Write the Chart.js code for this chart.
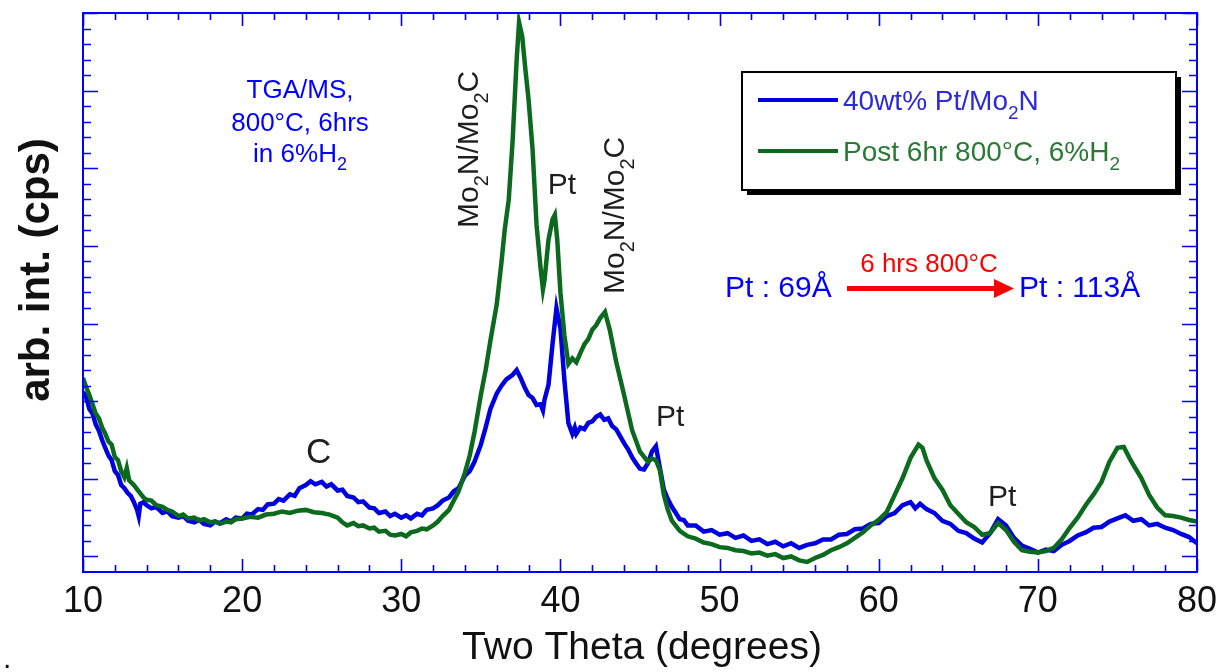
<!DOCTYPE html>
<html>
<head>
<meta charset="utf-8">
<script src="https://cdn.jsdelivr.net/npm/chart.js@4/dist/chart.umd.min.js"></script>
<style>
  html, body { margin: 0; padding: 0; background: #ffffff; }
  canvas { display: block; }
</style>
</head>
<body>
<canvas id="xrd" width="1221" height="672"></canvas>
<script>
// XRD scans: [two theta (deg), arbitrary intensity]
const freshScan = [
  [10,2.12],[10.2,2.05],[10.4,1.90],[10.6,1.84],[10.8,1.70],[11,1.62],[11.2,1.50],[11.4,1.40],
  [11.6,1.30],[11.8,1.24],[12,1.10],[12.2,1.05],[12.4,0.92],[12.6,0.88],[12.8,0.82],[13,0.78],
  [13.2,0.70],[13.4,0.60],[13.5,0.52],[13.6,0.68],[13.8,0.70],[14,0.66],[14.3,0.62],[14.6,0.64],
  [15,0.56],[15.3,0.58],[15.6,0.52],[16,0.50],[16.3,0.52],[16.6,0.46],[17,0.44],[17.3,0.47],
  [17.6,0.42],[18,0.40],[18.3,0.45],[18.6,0.43],[19,0.48],[19.3,0.45],[19.6,0.50],[20,0.49],
  [20.3,0.55],[20.6,0.54],[21,0.61],[21.3,0.60],[21.6,0.67],[22,0.68],[22.3,0.74],[22.6,0.72],
  [23,0.80],[23.3,0.78],[23.6,0.88],[24,0.92],[24.3,0.97],[24.6,0.93],[25,0.96],[25.3,0.90],
  [25.6,0.93],[26,0.85],[26.3,0.86],[26.6,0.78],[27,0.76],[27.3,0.70],[27.6,0.71],[28,0.63],
  [28.3,0.62],[28.6,0.56],[29,0.58],[29.3,0.52],[29.6,0.55],[30,0.50],[30.3,0.53],[30.6,0.49],
  [31,0.55],[31.3,0.53],[31.6,0.60],[32,0.62],[32.3,0.66],[32.6,0.72],[33,0.76],[33.3,0.84],
  [33.6,0.88],[34,1.04],[34.3,1.10],[34.6,1.22],[35,1.44],[35.3,1.66],[35.6,1.90],[36,2.10],
  [36.3,2.20],[36.6,2.28],[37,2.34],[37.25,2.40],[37.5,2.30],[37.75,2.18],[38,2.08],[38.25,2.04],
  [38.5,1.95],[38.75,1.96],[38.9,1.88],[39,2.02],[39.25,2.21],[39.5,2.73],[39.75,3.20],[40,2.94],
  [40.25,2.27],[40.5,1.72],[40.75,1.58],[40.9,1.66],[41,1.58],[41.25,1.66],[41.5,1.64],[41.75,1.72],
  [42,1.74],[42.25,1.80],[42.5,1.83],[42.75,1.76],[43,1.78],[43.25,1.68],[43.5,1.64],[43.75,1.55],
  [44,1.46],[44.25,1.38],[44.5,1.28],[44.75,1.20],[45,1.13],[45.25,1.12],[45.5,1.20],[45.75,1.35],
  [46,1.42],[46.25,1.14],[46.5,0.86],[46.75,0.74],[47,0.64],[47.25,0.56],[47.5,0.48],[47.75,0.47],
  [48,0.40],[48.5,0.40],[49,0.32],[49.5,0.34],[50,0.28],[50.5,0.30],[51,0.24],[51.5,0.27],
  [52,0.20],[52.5,0.22],[53,0.16],[53.5,0.19],[54,0.13],[54.5,0.17],[55,0.11],[55.5,0.15],
  [56,0.17],[56.5,0.22],[57,0.22],[57.5,0.28],[58,0.29],[58.5,0.35],[59,0.36],[59.5,0.42],
  [60,0.43],[60.5,0.52],[61,0.56],[61.5,0.66],[62,0.70],[62.3,0.62],[62.6,0.68],[63,0.61],
  [63.5,0.56],[64,0.46],[64.5,0.42],[65,0.33],[65.5,0.30],[66,0.23],[66.5,0.18],[67,0.30],
  [67.5,0.48],[67.75,0.44],[68,0.40],[68.5,0.24],[69,0.14],[69.5,0.10],[70,0.05],[70.5,0.09],
  [71,0.07],[71.5,0.15],[72,0.20],[72.5,0.27],[73,0.31],[73.5,0.37],[74,0.38],[74.5,0.45],
  [75,0.49],[75.5,0.53],[76,0.46],[76.5,0.48],[77,0.40],[77.5,0.42],[78,0.37],[78.5,0.34],
  [79,0.29],[79.5,0.25],[80,0.17]
];

const annealedScan = [
  [10,2.30],[10.2,2.18],[10.4,2.08],[10.6,1.96],[10.8,1.84],[11,1.78],[11.2,1.66],[11.4,1.58],
  [11.6,1.48],[11.8,1.44],[12,1.28],[12.2,1.24],[12.4,1.10],[12.6,1.02],[12.75,1.14],[12.9,0.98],
  [13.2,0.92],[13.5,0.84],[13.8,0.76],[14,0.73],[14.3,0.72],[14.6,0.66],[15,0.64],[15.3,0.60],
  [15.6,0.58],[16,0.52],[16.3,0.54],[16.6,0.49],[17,0.50],[17.3,0.46],[17.6,0.48],[18,0.44],
  [18.3,0.45],[18.6,0.42],[19,0.45],[19.3,0.44],[19.6,0.48],[20,0.49],[20.5,0.51],[21,0.50],
  [21.5,0.54],[22,0.55],[22.5,0.58],[23,0.56],[23.5,0.59],[24,0.60],[24.5,0.57],[25,0.56],
  [25.5,0.54],[26,0.50],[26.3,0.44],[26.6,0.40],[27,0.43],[27.3,0.39],[27.6,0.40],[28,0.36],
  [28.3,0.37],[28.6,0.32],[29,0.33],[29.3,0.28],[29.6,0.27],[30,0.29],[30.3,0.26],[30.6,0.31],
  [31,0.33],[31.3,0.36],[31.6,0.35],[32,0.40],[32.3,0.45],[32.6,0.52],[33,0.60],[33.3,0.72],
  [33.6,0.84],[34,1.08],[34.3,1.30],[34.6,1.60],[35,2.08],[35.3,2.40],[35.6,2.78],[36,3.25],
  [36.3,3.80],[36.5,4.21],[36.75,4.59],[37,5.37],[37.25,6.40],[37.4,6.88],[37.6,6.70],[37.8,6.27],
  [38,5.88],[38.25,5.24],[38.5,4.27],[38.75,3.72],[38.9,3.44],[39,3.56],[39.25,4.08],[39.5,4.34],
  [39.65,4.40],[39.8,4.08],[40,3.40],[40.25,2.85],[40.5,2.48],[40.75,2.55],[41,2.50],[41.25,2.62],
  [41.5,2.73],[41.75,2.80],[42,2.92],[42.25,2.98],[42.5,3.07],[42.8,3.15],[43.1,2.92],[43.5,2.51],
  [44,2.08],[44.5,1.63],[45,1.35],[45.5,1.22],[45.75,1.26],[46,1.24],[46.25,1.11],[46.5,0.79],
  [46.75,0.60],[47,0.46],[47.5,0.33],[48,0.26],[48.5,0.23],[49,0.18],[49.5,0.16],[50,0.12],
  [50.5,0.11],[51,0.08],[51.5,0.07],[52,0.04],[52.5,0.05],[53,0.01],[53.5,0.03],[54,-0.02],
  [54.5,0.00],[55,-0.05],[55.5,-0.07],[56,-0.02],[56.5,0.02],[57,0.08],[57.5,0.12],[58,0.17],
  [58.5,0.24],[59,0.31],[59.5,0.40],[60,0.47],[60.5,0.57],[61,0.79],[61.5,1.01],[62,1.27],
  [62.5,1.44],[62.75,1.40],[63,1.24],[63.5,1.01],[64,0.86],[64.5,0.66],[65,0.55],[65.5,0.44],
  [66,0.38],[66.5,0.28],[67,0.30],[67.5,0.43],[68,0.34],[68.5,0.19],[69,0.08],[69.5,0.06],
  [70,0.05],[70.5,0.07],[71,0.11],[71.5,0.22],[72,0.37],[72.5,0.50],[73,0.66],[73.5,0.80],
  [74,0.96],[74.5,1.22],[75,1.40],[75.4,1.41],[75.75,1.27],[76,1.18],[76.5,1.01],[77,0.79],
  [77.5,0.63],[78,0.53],[78.5,0.52],[79,0.50],[79.5,0.47],[80,0.45]
];

const xTickLabels = [10, 20, 30, 40, 50, 60, 70, 80];
const xMinorStep = 2;
const yMajorTicks = [0, 1, 2, 3, 4, 5, 6, 7];
const yMinorStep = 0.2;

const seriesNames = ['40wt% Pt/Mo|2|N', 'Post 6hr 800°C, 6%H|2|'];
const seriesColors = ['#0000e0', '#0b6a1e'];
const legendTextColors = ['#2a2ad8', '#2a7a36'];

const FONT = '"Liberation Sans", Arial, Helvetica, sans-serif';

// Draws text in which "|...|" segments become subscripts.
function richText(ctx, spec, x, y, size, color, align, bold) {
  const parts = spec.split('|');
  const w = (s, sub) => {
    ctx.font = (bold ? 'bold ' : '') + (sub ? Math.round(size * 0.68) : size) + 'px ' + FONT;
    return ctx.measureText(s).width;
  };
  let total = 0;
  parts.forEach((p, i) => { total += w(p, i % 2 === 1); });
  let cx = x;
  if (align === 'center') cx = x - total / 2;
  else if (align === 'right') cx = x - total;
  ctx.fillStyle = color;
  ctx.textAlign = 'left';
  ctx.textBaseline = 'alphabetic';
  parts.forEach((p, i) => {
    const sub = i % 2 === 1;
    const pw = w(p, sub);
    ctx.fillText(p, cx, sub ? y + size * 0.32 : y);
    cx += pw;
  });
}

const decorations = {
  id: 'decorations',
  afterDatasetsDraw(chart) {
    const ctx = chart.ctx;
    const xs = chart.scales.x, ys = chart.scales.y;
    const L = chart.chartArea.left, R = chart.chartArea.right;
    const T = chart.chartArea.top, B = chart.chartArea.bottom;
    ctx.save();

    // frame with inward ticks on all four sides
    ctx.strokeStyle = '#0000ff';
    ctx.lineWidth = 2;
    ctx.strokeRect(L, T, R - L, B - T);
    ctx.lineWidth = 1.6;
    ctx.beginPath();
    for (let v = xTickLabels[0]; v <= xTickLabels[xTickLabels.length - 1] + 1e-6; v += xMinorStep) {
      const px = Math.round(xs.getPixelForValue(v)) + 0.5;
      const major = xTickLabels.includes(Math.round(v));
      const len = major ? 13 : 7;
      ctx.moveTo(px, B); ctx.lineTo(px, B - len);
      ctx.moveTo(px, T); ctx.lineTo(px, T + len);
    }
    for (let v = yMajorTicks[0]; v <= yMajorTicks[yMajorTicks.length - 1] + 1e-6; v += yMinorStep) {
      const py = Math.round(ys.getPixelForValue(v)) + 0.5;
      const major = Math.abs(v - Math.round(v)) < 1e-6;
      const len = major ? 15 : 8;
      ctx.moveTo(L, py); ctx.lineTo(L + len, py);
      ctx.moveTo(R, py); ctx.lineTo(R - len, py);
    }
    ctx.stroke();

    // x tick labels
    ctx.fillStyle = '#111111';
    ctx.font = '36px ' + FONT;
    ctx.textAlign = 'center';
    ctx.textBaseline = 'alphabetic';
    xTickLabels.forEach(v => ctx.fillText(String(v), xs.getPixelForValue(v), 612));

    // axis titles
    ctx.font = '39px ' + FONT;
    ctx.fillText('Two Theta (degrees)', (L + R) / 2 + 2, 659);
    ctx.save();
    ctx.translate(49, 270);
    ctx.rotate(-Math.PI / 2);
    ctx.font = 'bold 42px ' + FONT;
    ctx.fillStyle = '#111111';
    ctx.fillText('arb. int. (cps)', 0, 0);
    ctx.restore();

    ctx.font = '30px ' + FONT;
    ctx.textAlign = 'left';
    ctx.fillText('.', 3, 668);

    // peak assignments
    const ink = '#1e1e1e';
    ctx.font = '35px ' + FONT;
    ctx.fillStyle = ink;
    ctx.textAlign = 'center';
    ctx.fillText('C', xs.getPixelForValue(24.8), 463);
    ctx.font = '30px ' + FONT;
    ctx.fillText('Pt', xs.getPixelForValue(40.1), 194);
    ctx.fillText('Pt', xs.getPixelForValue(46.9), 426);
    ctx.fillText('Pt', xs.getPixelForValue(67.75), 506);

    ctx.save();
    ctx.translate(478, 228);
    ctx.rotate(-Math.PI / 2);
    richText(ctx, 'Mo|2|N/Mo|2|C', 0, 0, 30, ink, 'left');
    ctx.restore();
    ctx.save();
    ctx.translate(624, 294);
    ctx.rotate(-Math.PI / 2);
    richText(ctx, 'Mo|2|N/Mo|2|C', 0, 0, 30, ink, 'left');
    ctx.restore();

    // treatment note
    const note = '#0000ff';
    richText(ctx, 'TGA/MS,', 300, 98, 26, note, 'center');
    richText(ctx, '800°C, 6hrs', 300, 131, 26, note, 'center');
    richText(ctx, 'in 6%H|2|', 300, 162, 26, note, 'center');

    // crystallite size change
    richText(ctx, 'Pt : 69Å', 725, 297, 30, note, 'left');
    richText(ctx, 'Pt : 113Å', 1019, 297, 30, note, 'left');
    richText(ctx, '6 hrs 800°C', 929, 272, 26, '#ff0000', 'center');
    ctx.fillStyle = '#ff0000';
    ctx.fillRect(847, 286, 150, 5);
    ctx.beginPath();
    ctx.moveTo(994, 279); ctx.lineTo(1014, 288.5); ctx.lineTo(994, 298);
    ctx.closePath();
    ctx.fill();

    // legend box with drop shadow
    const bx = 742, by = 72, bw = 434, bh = 118;
    ctx.fillStyle = '#000000';
    ctx.fillRect(bx + 5, by + 5, bw, bh);
    ctx.fillStyle = '#ffffff';
    ctx.fillRect(bx, by, bw, bh);
    ctx.strokeStyle = '#000000';
    ctx.lineWidth = 2;
    ctx.strokeRect(bx, by, bw, bh);
    const rows = [100, 151];
    seriesNames.forEach((name, i) => {
      ctx.strokeStyle = seriesColors[i];
      ctx.lineWidth = 4;
      ctx.beginPath();
      ctx.moveTo(758, rows[i]); ctx.lineTo(838, rows[i]);
      ctx.stroke();
      richText(ctx, name, 843, rows[i] + 10, 28, legendTextColors[i], 'left');
    });

    ctx.restore();
  }
};

const toPoints = scan => scan.map(([t, v]) => ({ x: t, y: v }));

new Chart(document.getElementById('xrd'), {
  type: 'line',
  data: {
    datasets: [
      {
        label: seriesNames[1].replace(/\|/g, ''),
        data: toPoints(annealedScan),
        borderColor: seriesColors[1],
        borderWidth: 4.5,
        pointRadius: 0,
        tension: 0,
        order: 0
      },
      {
        label: seriesNames[0].replace(/\|/g, ''),
        data: toPoints(freshScan),
        borderColor: seriesColors[0],
        borderWidth: 4.5,
        pointRadius: 0,
        tension: 0,
        order: 1
      }
    ]
  },
  options: {
    responsive: false,
    animation: false,
    devicePixelRatio: 1,
    layout: { padding: { left: 83, top: 13, right: 24, bottom: 100 } },
    plugins: { legend: { display: false }, tooltip: { enabled: false } },
    scales: {
      x: { type: 'linear', min: 10, max: 80, display: false },
      y: { type: 'linear', min: -0.2, max: 7, display: false }
    }
  },
  plugins: [decorations]
});
</script>
</body>
</html>
